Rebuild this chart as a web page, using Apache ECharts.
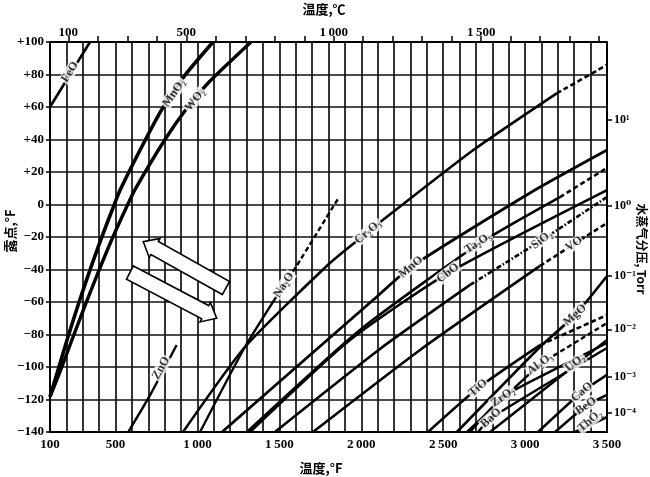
<!DOCTYPE html>
<html>
<head>
<meta charset="utf-8">
<title>露点-温度</title>
<script src="https://cdn.jsdelivr.net/npm/echarts@6/dist/echarts.min.js"></script>
<style>
html,body{margin:0;padding:0;background:#fff;}
#chart{width:650px;height:477px;}
</style>
</head>
<body>
<div id="chart"></div>
<script>
// ---------- axis tick values ----------
const dewLabelValues = [-140,-120,-100,-80,-60,-40,-20,0,20,40,60,80,100];
const tempLabelValuesF = [100,500,1000,1500,2000,2500,3000,3500];
const tempTickValuesC = [100,200,300,400,500,600,700,800,900,1000,1100,1200,1300,1400,1500,1600,1700,1800,1900];
const tempLabelValuesC = [100,500,1000,1500];
const torrLabels = ['10¹','10⁰','10⁻¹','10⁻²','10⁻³','10⁻⁴'];
const torrDewF = [52.3,-0.8,-43.9,-76.8,-106,-128.3];

// ---------- curves: [temperature °F, dew point °F] ----------
const FeO   = [[100,60],[344,100]];
const MnO2  = [[100,-118.3],[155,-99.8],[210,-81.4],[275,-60.8],[344,-40.3],[411,-21.4],[487,-1.4],[528,8.9],[676,38.6],[793,60.2],[925,79.7],[1095,100]];
const WO2   = [[100,-118.3],[173,-99.8],[241,-81.4],[319,-60.8],[400,-40.3],[478,-21.4],[568,-1.4],[617,8.9],[800,39.7],[942,60.2],[1071,75.4],[1327,100]];
const ZnO   = [[578,-140],[710,-117.5],[873,-86.5]];
const Na2O  = [[1016,-140],[1290,-87.7],[1528,-49.5],[1602,-38.3],[1860,3.8]];
const Cr2O3 = [[912,-140],[1290,-87.7],[1809,-36.0],[2041,-16.9],[2145,-8.5],[2684,33.5],[3193,68.4],[3498,85.8]];
const MnO   = [[1150,-140],[2072,-58.8],[2303,-38.5],[3030,7.1],[3500,33.5]];
const Ta2O5 = [[1302,-140],[1992,-77.2],[2725,-23.7],[3213,4.6],[3500,22.5]];
const CbO   = [[1321,-140],[1931,-83.4],[2529,-42.2],[3500,8.9]];
const SiO2  = [[1473,-140],[2114,-88.9],[2664,-49.5],[3103,-21.8],[3500,4.6]];
const VO    = [[1705,-140],[2359,-89.5],[3091,-37.8],[3299,-24.3],[3500,-11.4]];
const TiO   = [[2407,-140],[2713,-112.9],[3091,-86.5],[3500,-68.0]];
const MgO   = [[2584,-140],[3091,-87.7],[3305,-68.0],[3500,-44.0]];
const Al2O3 = [[2645,-140],[3091,-98.2],[3500,-72.9]];
const UO2   = [[2786,-140],[3305,-98.8],[3500,-83.3]];
const ZrO2  = [[2664,-140],[2865,-118.5],[3150,-103],[3500,-85.2]];
const BaO   = [[2713,-140],[2792,-131.4],[3500,-88.3]];
const CaO   = [[3079,-140],[3347,-115.4],[3500,-104.9]];
const BeO   = [[3183,-140],[3372,-124],[3500,-117.2]];
const ThO2  = [[3305,-140],[3500,-130.8]];

// ---------- curve labels (annotation anchors, data units) ----------
const labelNames = ['FeO','MnO₂','WO₂','ZnO','Na₂O','Cr₂O₃','MnO','CbO','Ta₂O₅','SiO₂','VO','TiO','MgO','Al₂O₃','UO₂','ZrO₂','BaO','CaO','BeO','ThO₂'];
const labelF     = [222,857,985,778,1528,2041,2303,2529,2713,3103,3299,2713,3305,3091,3305,2865,2792,3347,3372,3396];
const labelD     = [81.5,68.6,64.3,-100.6,-49.5,-16.9,-38.5,-42.2,-23.7,-21.8,-24.3,-112.9,-68,-98.2,-97.5,-118.5,-131.4,-115.4,-124,-133.2];
const labelAngle = [58,55,52,60,57,40,40,38,33,36,35,40,42,36,38,35,42,40,35,40];

// ---------- arrows: [tail °F, tail dew, tip °F, tip dew] ----------
const arrowTailF = [1174, 588];
const arrowTailD = [-51.4, -41.9];
const arrowTipF  = [669.5, 1117.5];
const arrowTipD  = [-22.9, -70.0];

// ---------- build ----------
const SERIF = "'Liberation Serif','DejaVu Serif','Times New Roman',serif";
const CJK = "'Noto Sans CJK SC','Noto Sans CJK JP',sans-serif";

const curves = [
  {pts:FeO, dashAt:null, w:2.6},
  {pts:MnO2, dashAt:null, w:3.6},
  {pts:WO2, dashAt:null, w:3.4},
  {pts:ZnO, dashAt:null, w:2.4},
  {pts:Na2O, dashAt:2, w:2.4, dash:'dashed'},
  {pts:Cr2O3, dashAt:6, w:2.6, dash:'dashed'},
  {pts:MnO, dashAt:null, w:2.8},
  {pts:Ta2O5, dashAt:3, w:2.6, dash:'dashed'},
  {pts:CbO, dashAt:null, w:2.6},
  {pts:SiO2, dashAt:2, w:2.6, dash:'dashdot'},
  {pts:VO, dashAt:2, w:2.6, dash:'dashed'},
  {pts:TiO, dashAt:2, w:2.6, dash:'dashed'},
  {pts:MgO, dashAt:null, w:2.6},
  {pts:Al2O3, dashAt:1, w:2.4, dash:'dashed'},
  {pts:UO2, dashAt:null, w:2.4},
  {pts:ZrO2, dashAt:null, w:2.4},
  {pts:BaO, dashAt:null, w:2.4},
  {pts:CaO, dashAt:null, w:2.6},
  {pts:BeO, dashAt:null, w:2.6},
  {pts:ThO2, dashAt:null, w:2.6}
];
const dashTypes = {dashed:[5,3], dashdot:[5,2,1.5,2]};

const series = [];
function lineSeries(data, width, type){
  return {type:'line', xAxisIndex:0, yAxisIndex:0, data:data, showSymbol:false, symbol:'none',
    smooth:0.2, silent:true, z:3, clip:true,
    lineStyle:{color:'#000', width:width, type:type||'solid'}};
}
curves.forEach(c=>{
  if (c.dashAt === null) {
    series.push(lineSeries(c.pts, c.w));
  } else {
    series.push(lineSeries(c.pts.slice(0, c.dashAt+1), c.w));
    series.push(lineSeries(c.pts.slice(c.dashAt), c.w, dashTypes[c.dash]));
  }
});

// arrows
series.push({
  type:'custom', coordinateSystem:'cartesian2d', xAxisIndex:0, yAxisIndex:0, silent:true, z:4, clip:false,
  data: arrowTailF.map((f,i)=>[f, arrowTailD[i], arrowTipF[i], arrowTipD[i]]),
  renderItem: function(params, api){
    const a = api.coord([api.value(0), api.value(1)]);
    const b = api.coord([api.value(2), api.value(3)]);
    const dx=b[0]-a[0], dy=b[1]-a[1], L=Math.hypot(dx,dy);
    const ux=dx/L, uy=dy/L, nx=-uy, ny=ux;
    const sw=7.5, hw=11, hl=13;
    const p=(t,s)=>[a[0]+ux*t+nx*s, a[1]+uy*t+ny*s];
    return {type:'polygon', shape:{points:[p(0,-sw),p(L-hl,-sw),p(L-hl,-hw),p(L,0),p(L-hl,hw),p(L-hl,sw),p(0,sw)]},
      style:{fill:'#fff', stroke:'#000', lineWidth:1.6}};
  }
});

// labels
series.push({
  type:'scatter', xAxisIndex:0, yAxisIndex:0, silent:true, z:10, symbolSize:0.1,
  itemStyle:{color:'rgba(0,0,0,0)'},
  data: labelNames.map((n,i)=>({name:n, value:[labelF[i], labelD[i]], label:{rotate:labelAngle[i]}})),
  label:{show:true, position:'inside', formatter:'{b}', color:'#000', fontFamily:SERIF, fontWeight:'bold',
    fontSize:12, backgroundColor:'#fff', padding:[0,1,0,1]}
});

function thousands(v){
  const s = String(Math.round(v));
  return s.length>3 ? s.slice(0,-3)+'\u2009'+s.slice(-3) : s;
}
const axisLineStyle = {color:'#000', width:2};
const labelBase = {color:'#000', fontFamily:SERIF, fontWeight:'bold', fontSize:13};

const option = {
  animation:false,
  backgroundColor:'#fff',
  grid:{left:50, right:43, top:42, bottom:45, containLabel:false},
  xAxis:[
    {type:'value', position:'bottom', min:100, max:3500, interval:100,
      axisLine:{show:true, onZero:false, lineStyle:axisLineStyle},
      axisTick:{show:false},
      splitLine:{show:true, lineStyle:{color:'#111', width:1.7}},
      axisLabel:Object.assign({customValues:tempLabelValuesF, formatter:thousands, margin:6}, labelBase)},
    {type:'value', position:'top', min:(100-32)*5/9, max:(3500-32)*5/9,
      axisLine:{show:true, onZero:false, lineStyle:axisLineStyle},
      axisTick:{show:true, customValues:tempTickValuesC, length:6, lineStyle:{color:'#000', width:1.5}},
      splitLine:{show:false},
      axisLabel:Object.assign({customValues:tempLabelValuesC, formatter:thousands, margin:3}, labelBase)}
  ],
  yAxis:[
    {type:'value', position:'left', min:-140, max:100, interval:10,
      axisLine:{show:true, onZero:false, lineStyle:axisLineStyle},
      axisTick:{show:true, customValues:dewLabelValues, length:4, lineStyle:{color:'#000', width:1.5}},
      splitLine:{show:true, lineStyle:{color:'#111', width:1.7}},
      axisLabel:Object.assign({customValues:dewLabelValues, margin:6,
        formatter:v=> v>0 ? '+'+v : (v<0 ? '\u2212'+(-v) : '0')}, labelBase)},
    {type:'value', position:'right', min:-140, max:100,
      axisLine:{show:true, onZero:false, lineStyle:axisLineStyle},
      axisTick:{show:true, customValues:torrDewF, length:5, lineStyle:{color:'#000', width:1.5}},
      splitLine:{show:false},
      axisLabel:Object.assign({}, labelBase, {customValues:torrDewF, margin:7, fontSize:12,
        formatter:v=>{const i=torrDewF.findIndex(t=>Math.abs(t-v)<0.05); return i>=0?torrLabels[i]:'';}})}
  ],
  graphic:[
    {type:'text', x:324, y:9, silent:true, style:{text:'温度,℃', fill:'#000', font:'bold 13px '+CJK, align:'center', verticalAlign:'middle'}},
    {type:'text', x:321, y:468, silent:true, style:{text:'温度,°F', fill:'#000', font:'bold 13px '+CJK, align:'center', verticalAlign:'middle'}},
    {type:'text', x:10, y:231, rotation:Math.PI/2, silent:true, style:{text:'露点,°F', fill:'#000', font:'bold 13px '+CJK, align:'center', verticalAlign:'middle'}},
    {type:'text', x:642, y:249, rotation:-Math.PI/2, silent:true, style:{text:'水蒸气分压, Torr', fill:'#000', font:'bold 12px '+CJK, align:'center', verticalAlign:'middle'}}
  ],
  series:series
};

const chart = echarts.init(document.getElementById('chart'), null, {renderer:'canvas'});
chart.setOption(option);
</script>
</body>
</html>
